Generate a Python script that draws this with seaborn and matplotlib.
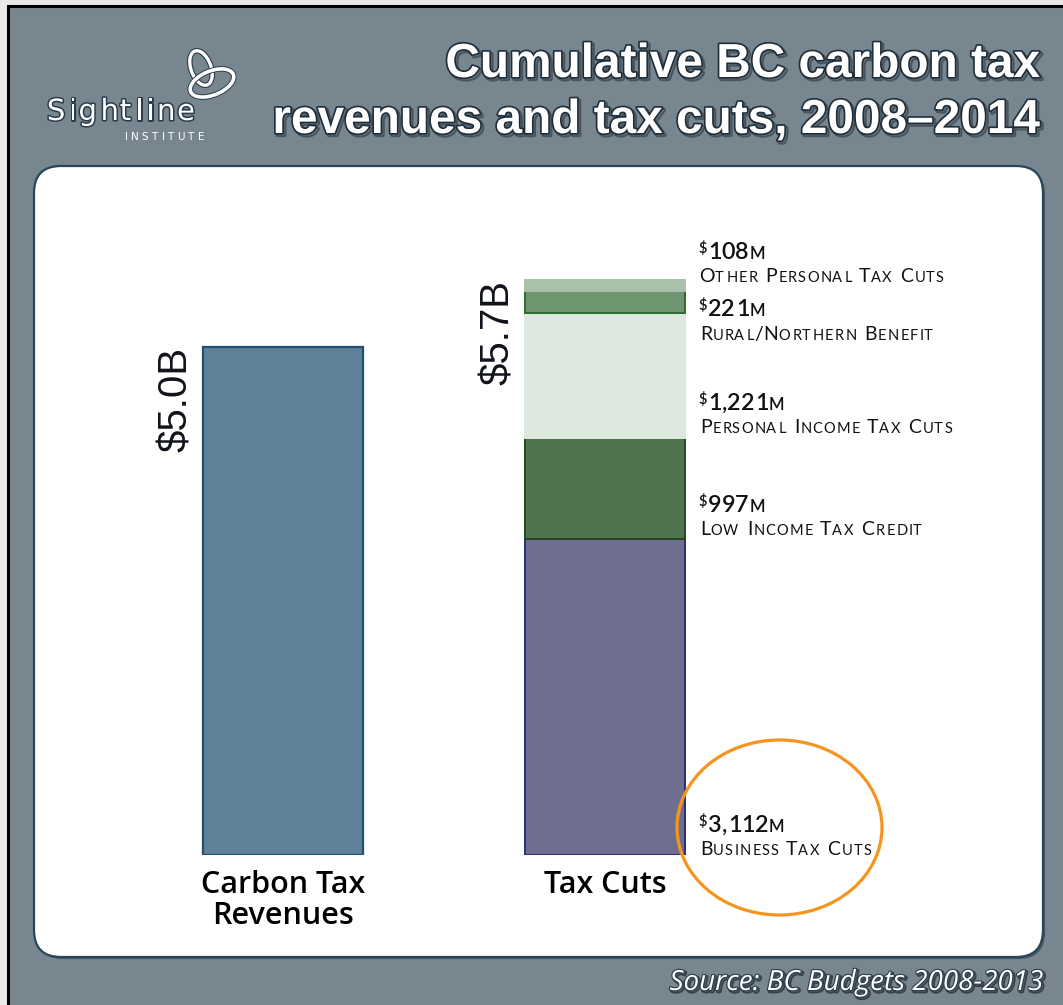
import numpy as np
import pandas as pd
import seaborn as sns
import matplotlib
matplotlib.use("Agg")
import matplotlib.pyplot as plt
from matplotlib.patches import FancyBboxPatch, Ellipse, Rectangle
import matplotlib.patheffects as pe
from matplotlib.font_manager import FontProperties, findfont, get_font

# ---------------- data ----------------
CATEGORIES = ["Carbon Tax\nRevenues", "Tax Cuts"]
CARBON_REVENUE = [5000]                     # $ millions
SEGMENT_NAMES = ["Business Tax Cuts", "Low Income Tax Credit",
                 "Personal Income Tax Cuts", "Rural/Northern Benefit",
                 "Other Personal Tax Cuts"]
SEGMENT_VALUES = [3112, 997, 1221, 221, 108]  # $ millions, bottom -> top
TITLE_LINES = ["Cumulative BC carbon tax", "revenues and tax cuts, 2008\u20132014"]
SOURCE = "Source: BC Budgets 2008-2013"

# ---------------- styles ----------------
BG = "#78868f"
CARBON_FC, CARBON_EC = "#5f8199", "#24506e"
SEG_FC = ["#6e6f90", "#52734f", "#dde9de", "#6e9470", "#a9c0a9"]
SEG_EC = ["#2b2d78", "#1e4a1e", "#dde9de", "#2d6b2d", "#a9c0a9"]
ORANGE = "#f7941d"

W, H = 1063, 1005
sns.set_theme(style="white")
plt.rcParams["font.family"] = ["DejaVu Sans"]

fig = plt.figure(figsize=(W / 100, H / 100), dpi=100)
fig.patch.set_facecolor(BG)

# background (pixel coords)
bg = fig.add_axes([0, 0, 1, 1], zorder=0)
bg.set_xlim(0, W); bg.set_ylim(H, 0); bg.axis("off")
bg.add_patch(Rectangle((0, 0), W, H, facecolor="#e9e9e9", edgecolor="none"))
bg.add_patch(Rectangle((8, 6), W + 20, H + 20, facecolor=BG, edgecolor="black", lw=2.2))
panel = FancyBboxPatch((34, 166), 1009, 791, boxstyle="round,pad=0,rounding_size=27",
                       facecolor="white", edgecolor="#27465c", lw=1.6,
                       path_effects=[pe.SimplePatchShadow(offset=(1.5, -1.5), shadow_rgbFace="#2a3a46", alpha=0.6), pe.Normal()])
bg.add_patch(panel)

# data axes: bar baseline at y=855px, carbon bar center 283px, tax cut center 605px
PX_PER_UNIT_X = 322.0
PX_PER_M = 0.1016
ax_left, ax_right, ax_bottom, ax_top = 34, 1043, 855, 166
ax = fig.add_axes([ax_left / W, (H - ax_bottom) / H, (ax_right - ax_left) / W,
                   (ax_bottom - ax_top) / H], zorder=1)
ax.patch.set_alpha(0)

BAR_W = 160 / PX_PER_UNIT_X
df_c = pd.DataFrame({"cat": [CATEGORIES[0]], "val": CARBON_REVENUE})
sns.barplot(data=df_c, x="cat", y="val", order=CATEGORIES, width=BAR_W,
            color=CARBON_FC, saturation=1, edgecolor=CARBON_EC, linewidth=1.6,
            errorbar=None, ax=ax)
bottom = 0
for name, v, fc, ec in zip(SEGMENT_NAMES, SEGMENT_VALUES, SEG_FC, SEG_EC):
    d = pd.DataFrame({"cat": [CATEGORIES[1]], "val": [v]})
    sns.barplot(data=d, x="cat", y="val", order=CATEGORIES, width=BAR_W,
                color=fc, saturation=1, edgecolor=ec, linewidth=1.4,
                bottom=bottom, errorbar=None, ax=ax)
    bottom += v
TOTAL_CUTS = bottom

ax.set_xlim((ax_left - 283) / PX_PER_UNIT_X, 1 + (ax_right - 605) / PX_PER_UNIT_X)
ax.set_ylim(0, (ax_bottom - ax_top) / PX_PER_M)
sns.despine(ax=ax, left=True, bottom=True)
ax.set_xlabel(""); ax.set_ylabel("")
ax.set_yticks([])
ax.set_xticks([0, 1])
ax.set_xticklabels(CATEGORIES, fontsize=22, family=["Open Sans", "DejaVu Sans"],
                   weight="semibold", color="black")
for t in ax.get_xticklabels():
    t.set_linespacing(1.05)
ax.tick_params(axis="x", length=0, pad=11)
ax.grid(False)

# rotated totals
for i, v in enumerate([CARBON_REVENUE[0], TOTAL_CUTS]):
    ax.annotate(f"${v/1000:.1f}B", xy=(i, v), xytext=(-107, 0), textcoords="offset pixels",
                rotation=90, ha="center", va="top", fontsize=29,
                family=["Liberation Sans", "DejaVu Sans"], color="#10121c")

# ---------------- overlay ----------------
top = fig.add_axes([0, 0, 1, 1], zorder=3)
top.set_xlim(0, W); top.set_ylim(H, 0); top.axis("off"); top.patch.set_alpha(0)


def glyph(ch, fp, size):
    f = get_font(findfont(fp))
    f.set_size(size, 100)
    g = f.load_char(ord(ch))
    return g.linearHoriAdvance / 65536.0, g.horiBearingX / 64.0


def draw_pieces(x, y, pieces, track=0.0, color="black", effects=None):
    for s, size, rise, fp in pieces:
        for ch in s:
            adv, bx = glyph(ch, fp, size)
            if ch == "/":
                adv -= 2.5
            if ch != " ":
                top.text(x + bx, y - rise, ch, fontproperties=fp, fontsize=size,
                         ha="left", va="baseline", color=color, path_effects=effects)
            x += adv + track
    return x


LAB_FP = FontProperties(family="Lato")
VAL_FP = FontProperties(family="Lato", weight="semibold")
CAP_BIG, CAP_SMALL = 14, 10.5


def caption_pieces(text):
    out = []
    for ch in text:
        if ch.isalpha() and ch.islower():
            out.append((ch.upper(), CAP_SMALL, 0, LAB_FP))
        else:
            out.append((ch, CAP_BIG, 0, LAB_FP))
    return out


def value_pieces(v):
    return [("$", 10.5, 6, VAL_FP), (f"{v:,}", 16.8, 0, VAL_FP), ("M", 12, 0, VAL_FP)]


LABEL_X = 698
VALUE_BASE = [832, 512, 410, 316, 259]
CAPTION_BASE = [855, 535, 433, 340, 282]
for name, v, yb, yc in zip(SEGMENT_NAMES, SEGMENT_VALUES, VALUE_BASE, CAPTION_BASE):
    draw_pieces(LABEL_X, yb, value_pieces(v), track=0.2, color="#111111")
    draw_pieces(LABEL_X, yc, caption_pieces(name), track=1.3, color="#111111")

top.add_patch(Ellipse((779.5, 827.5), 205, 175, fill=False, edgecolor=ORANGE, lw=2.3))

# title
title_fx = [pe.Stroke(offset=(1.5, -1.5), linewidth=3, foreground="#1a2530", alpha=0.5),
            pe.Stroke(linewidth=2.4, foreground="#1d2d3a"), pe.Normal()]
for line, yb in zip(TITLE_LINES, [77, 133]):
    top.text(1040, yb, line, ha="right", va="baseline", fontsize=34.4, weight="bold",
             family=["Liberation Sans", "DejaVu Sans"], color="white", path_effects=title_fx)

# source
src_fx = [pe.Stroke(offset=(1.2, -1.2), linewidth=2.5, foreground="#1a2530", alpha=0.7),
          pe.Stroke(linewidth=1.6, foreground="#2a3d4c"), pe.Normal()]
top.text(1043, 990, SOURCE, ha="right", va="baseline", fontsize=20, style="italic",
         family=["Open Sans", "DejaVu Sans"], color="white", path_effects=src_fx)

# logo
logo_fx = [pe.Stroke(linewidth=2.2, foreground="#2a3d4c"), pe.Normal()]
draw_pieces(45, 120, [("Sightline", 21, 0, FontProperties(family="DejaVu Sans"))],
            track=2.6, color="white", effects=logo_fx)
draw_pieces(124, 140, [("INSTITUTE", 7.5, 0, FontProperties(family="DejaVu Sans"))],
            track=3.2, color="white")
swirl_fx = [pe.Stroke(linewidth=4, foreground="#2a3d4c"), pe.Normal()]
top.add_patch(Ellipse((201, 68), 20, 36, angle=-20, fill=False, edgecolor="white", lw=2.4, path_effects=swirl_fx))
top.add_patch(Ellipse((212, 83), 46, 24, angle=-22, fill=False, edgecolor="white", lw=2.6, path_effects=swirl_fx))

fig.savefig("out.png", dpi=100, facecolor=fig.get_facecolor())
